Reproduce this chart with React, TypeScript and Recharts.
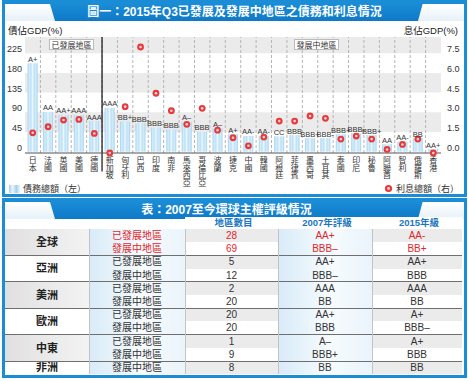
import React from 'react';
import {
  ComposedChart,
  Bar,
  Line,
  XAxis,
  YAxis,
  ReferenceArea,
  ReferenceLine,
  LabelList,
} from 'recharts';

const countries = ['日本', '法國', '英國', '美國', '德國', '新加坡', '匈牙利', '巴西', '印度', '南非', '馬來西亞', '哥倫比亞', '波蘭', '捷克', '中國', '韓國', '阿根廷', '菲律賓', '墨西哥', '土耳其', '泰國', '印尼', '秘魯', '阿聯酋', '智利', '俄羅斯', '香港'];
const debtToGdp = [202, 91, 84, 84, 70, 100, 69, 65, 55, 51, 68, 45, 53, 40, 36, 36, 35, 38, 31, 31, 40, 42, 38, 17, 23, 31, 6];
const interestToGdp = [1.44, 1.9, 2.41, 2.46, 1.39, -0.1, 3.43, 7.97, 4.45, 3.12, 2.08, 3.3, 1.64, 1.06, 0.45, 1.11, 2.33, 2.33, 2.72, 2.54, 0.96, 1.19, 0.96, 0.17, 0.55, 0.96, -0.1];
const creditRatings = ['A+', 'AA', 'AA+', 'AAA', 'AAA', 'AAA', 'BB+', 'BBB-', 'BBB-', 'BBB', 'A–', 'BBB', 'A–', 'A+', 'AA-', 'AA-', 'CC', 'BBB', 'BBB+', 'BBB-', 'BBB+', 'BBB-', 'BBB+', 'AA', 'AA-', 'BB', 'AA+'];

const leftTicks = [0, 45, 90, 135, 180, 225];
const rightTicks = [0, 1.5, 3, 4.5, 6, 7.5];
const shadedBands = [[225, 262], [135, 180], [45, 90]];

const tableHeaders = ['地區數目', '2007年評級', '2015年級'];
const tableRegions = ['全球', '亞洲', '美洲', '歐洲', '中東', '非洲'];
const rowRegion = [0, 0, 1, 1, 2, 2, 3, 3, 4, 4, 5];
const rowGroup = ['已發展地區', '發展中地區', '已發展地區', '發展中地區', '已發展地區', '發展中地區', '已發展地區', '發展中地區', '已發展地區', '發展中地區', '發展中地區'];
const rowCount = [28, 69, 5, 12, 2, 20, 20, 20, 1, 9, 8];
const rating2007 = ['AA+', 'BBB–', 'AA+', 'BBB–', 'AAA', 'BB', 'AA+', 'BBB', 'A–', 'BBB+', 'BB'];
const rating2015 = ['AA-', 'BB+', 'AA+', 'BBB', 'AAA', 'BB', 'A+', 'BBB–', 'A+', 'BBB', 'BB'];

const FONT = '"Liberation Sans", Arial, "Noto Sans CJK TC", sans-serif';
const BLUE = '#1b8dd6';
const RED = '#e3262b';

const chartData = countries.map((name, i) => ({
  name,
  debt: debtToGdp[i],
  interest: interestToGdp[i],
  rating: creditRatings[i],
}));

// country names are stacked one character per line
const StackedTick = (props: any) => {
  const { x, y, payload } = props;
  const chars = Array.from(String(payload.value));
  return (
    <text x={x} y={y} textAnchor="middle" fontSize={8} fill="#333" fontFamily={FONT}>
      {chars.map((ch, i) => (
        <tspan key={i} x={x} dy={i === 0 ? 10 : 7.6}>{ch}</tspan>
      ))}
    </text>
  );
};

const RingDot = (props: any) => {
  const { cx, cy } = props;
  if (cx == null || cy == null) return null;
  return (
    <g>
      <circle cx={cx} cy={cy} r={3.4} fill="#e6393c" />
      <circle cx={cx} cy={cy} r={1.3} fill="#fcd6d6" />
    </g>
  );
};

function Panel({ top, height, title, titleShift = 0 }: { top: number; height: number; title: string; titleShift?: number }) {
  return (
    <div style={{ position: 'absolute', left: 2, top, width: 465, height, border: `3px solid ${BLUE}`, boxSizing: 'border-box' }}>
      <div style={{ position: 'absolute', left: 0, right: 0, top: 0, height: 18, background: `linear-gradient(${BLUE}, #0e79c8)` }} />
      <div style={{ position: 'absolute', left: 0, top: 1, width: 50, height: 17, background: 'linear-gradient(#ffffff, #e6f1f9)', clipPath: 'polygon(0 0, 90% 0, 100% 100%, 0 100%)' }} />
      <div style={{ position: 'absolute', right: 0, top: 1, width: 46, height: 17, background: 'linear-gradient(#ffffff, #e6f1f9)', clipPath: 'polygon(10% 0, 100% 0, 100% 100%, 0 100%)' }} />
      <div style={{ position: 'absolute', left: titleShift, right: -titleShift, top: 0, height: 18, lineHeight: '18px', textAlign: 'center', color: '#fff', fontWeight: 'bold', fontSize: 12 }}>
        {title}
      </div>
    </div>
  );
}

function DebtChart() {
  return (
    <ComposedChart width={468} height={196} data={chartData} margin={{ top: 37, right: 0, left: 0, bottom: 0 }} barCategoryGap="17%">
      <defs>
        <linearGradient id="barStripe" x1="0" y1="0" x2="1" y2="0">
          <stop offset="0" stopColor="#9fd1f1" />
          <stop offset="0.18" stopColor="#d5edfa" />
          <stop offset="0.32" stopColor="#bde0f6" />
          <stop offset="0.5" stopColor="#ecf7fd" />
          <stop offset="0.68" stopColor="#bde0f6" />
          <stop offset="0.82" stopColor="#d5edfa" />
          <stop offset="1" stopColor="#9fd1f1" />
        </linearGradient>
      </defs>
      <XAxis
        dataKey="name"
        interval={0}
        tick={<StackedTick />}
        tickLine={false}
        tickSize={0}
        tickMargin={0}
        height={43}
        axisLine={{ stroke: '#555', strokeWidth: 1.2 }}
      />
      <YAxis
        yAxisId="left"
        domain={[-3, 262]}
        ticks={leftTicks}
        width={25}
        axisLine={false}
        tickLine={false}
        tickSize={0}
        tickMargin={3}
        tick={{ fontSize: 9, fill: '#333', dy: -4, fontFamily: FONT }}
      />
      <YAxis
        yAxisId="right"
        orientation="right"
        domain={[-0.1, 262 / 30]}
        ticks={rightTicks}
        tickFormatter={(v: number) => v.toFixed(1)}
        width={27}
        axisLine={false}
        tickLine={false}
        tickSize={0}
        tickMargin={6}
        tick={{ fontSize: 9, fill: '#333', dy: -4, fontFamily: FONT, textAnchor: 'start' }}
      />
      {shadedBands.map(([y1, y2], i) => (
        <ReferenceArea key={i} yAxisId="left" y1={y1} y2={y2} fill="#ebebeb" fillOpacity={1} stroke="none" />
      ))}
      {countries.slice(0, -1).map((c) => (
        <ReferenceLine key={c} yAxisId="left" x={c} position="end" stroke="#b5b5b5" strokeDasharray="3 2" />
      ))}
      <ReferenceLine
        yAxisId="left"
        position="end"
        ifOverflow="visible"
        segment={[{ x: '德國', y: 262 }, { x: '德國', y: -45 }]}
        stroke="#111"
        strokeWidth={1.2}
      />
      <Bar yAxisId="left" dataKey="debt" fill="url(#barStripe)" isAnimationActive={false}>
        <LabelList dataKey="rating" position="top" offset={1.5} fontSize={7.5} fill="#333" fontFamily={FONT} />
      </Bar>
      <Line
        yAxisId="right"
        dataKey="interest"
        stroke="none"
        dot={<RingDot />}
        activeDot={false}
        isAnimationActive={false}
      />
    </ComposedChart>
  );
}

const colEdges = [0, 84, 180, 273, 367, 457];
const ROW_H = 13.2;

function RatingTable() {
  const cell = (left: number, right: number, top: number, h: number, bg: string, content: React.ReactNode, style: React.CSSProperties = {}) => (
    <div style={{ position: 'absolute', left, width: right - left, top, height: h, lineHeight: `${h}px`, textAlign: 'center', background: bg, fontSize: 10, color: '#333', ...style }}>
      {content}
    </div>
  );
  const blueBg = 'linear-gradient(90deg, #d8ebf8, #f6fbfe 55%, #eaf4fb)';
  return (
    <div style={{ position: 'absolute', left: 5, top: 217, width: 457, height: 157 }}>
      {tableHeaders.map((h, i) =>
        cell(colEdges[i + 2], colEdges[i + 3], 0, 12, '#fff', h, { color: '#1a76c0', fontWeight: 'bold', fontSize: 9.5, lineHeight: '12px', paddingLeft: 4, boxSizing: 'border-box' })
      )}
      <div style={{ position: 'absolute', left: 0, top: 12, width: 457, height: 145 }}>
        {rowGroup.map((g, i) => {
          const red = rowRegion[i] === 0;
          const color = red ? RED : '#333';
          const alt = i % 2 === 0 ? '#ebebeb' : '#ffffff';
          return (
            <React.Fragment key={i}>
              {cell(colEdges[1], colEdges[2], i * ROW_H, ROW_H, blueBg, g, { color })}
              {cell(colEdges[2], colEdges[3], i * ROW_H, ROW_H, alt, rowCount[i], { color })}
              {cell(colEdges[3], colEdges[4], i * ROW_H, ROW_H, blueBg, rating2007[i], { color })}
              {cell(colEdges[4], colEdges[5], i * ROW_H, ROW_H, alt, rating2015[i], { color })}
            </React.Fragment>
          );
        })}
        {tableRegions.map((r, k) => {
          const first = rowRegion.indexOf(k);
          const n = rowRegion.filter((v) => v === k).length;
          const bg = k % 2 === 0 ? 'linear-gradient(90deg, #e0e0e0, #f3f3f3)' : '#fff';
          return (
            <React.Fragment key={r}>
              {cell(colEdges[0], colEdges[1], first * ROW_H, n * ROW_H, bg, r, { fontWeight: 'bold', fontSize: 11, color: '#222' })}
              {k > 0 && (
                <div style={{ position: 'absolute', left: 0, width: 457, top: first * ROW_H - 0.5, height: 1, background: '#6f6f6f' }} />
              )}
            </React.Fragment>
          );
        })}
        {colEdges.slice(1, -1).map((x) => (
          <div key={x} style={{ position: 'absolute', left: x - 0.5, top: 0, width: 1, height: 145, background: '#c3c3c3' }} />
        ))}
      </div>
    </div>
  );
}

export default function App() {
  return (
    <div style={{ position: 'absolute', left: 0, top: 0, width: 468, height: 381, background: '#fff', fontFamily: FONT, overflow: 'hidden' }}>
      <Panel top={0} height={197} title="圖一：2015年Q3已發展及發展中地區之債務和利息情況" />
      <div style={{ position: 'absolute', left: 0, top: 0 }}>
        <DebtChart />
      </div>
      <div style={{ position: 'absolute', left: 8, top: 23, fontSize: 9.5, color: '#222' }}>債佔GDP(%)</div>
      <div style={{ position: 'absolute', right: 10, top: 23, fontSize: 9.5, color: '#222' }}>息佔GDP(%)</div>
      <div style={{ position: 'absolute', left: 49, top: 39, width: 45, height: 11, lineHeight: '11px', fontSize: 8, textAlign: 'center', background: '#fff', border: '1px solid #bbb', boxSizing: 'border-box', color: '#333' }}>已發展地區</div>
      <div style={{ position: 'absolute', left: 294, top: 39, width: 45, height: 11, lineHeight: '11px', fontSize: 8, textAlign: 'center', background: '#fff', border: '1px solid #bbb', boxSizing: 'border-box', color: '#333' }}>發展中地區</div>
      <div style={{ position: 'absolute', left: 9, top: 182, display: 'flex', alignItems: 'center', fontSize: 9, color: '#333' }}>
        <span style={{ display: 'inline-block', width: 11, height: 8, marginRight: 3, background: 'linear-gradient(90deg, #9fd1f1, #ecf7fd, #9fd1f1, #ecf7fd)' }} />
        債務總額（左）
      </div>
      <div style={{ position: 'absolute', right: 9, top: 182, display: 'flex', alignItems: 'center', fontSize: 9, color: '#333' }}>
        <svg width={9} height={9} style={{ marginRight: 3 }}>
          <circle cx={4.5} cy={4.5} r={3.6} fill="#e6393c" />
          <circle cx={4.5} cy={4.5} r={1.4} fill="#fcd6d6" />
        </svg>
        利息總額（右）
      </div>
      <Panel top={198} height={180} title="表：2007至今環球主權評級情況" titleShift={-8} />
      <RatingTable />
    </div>
  );
}
